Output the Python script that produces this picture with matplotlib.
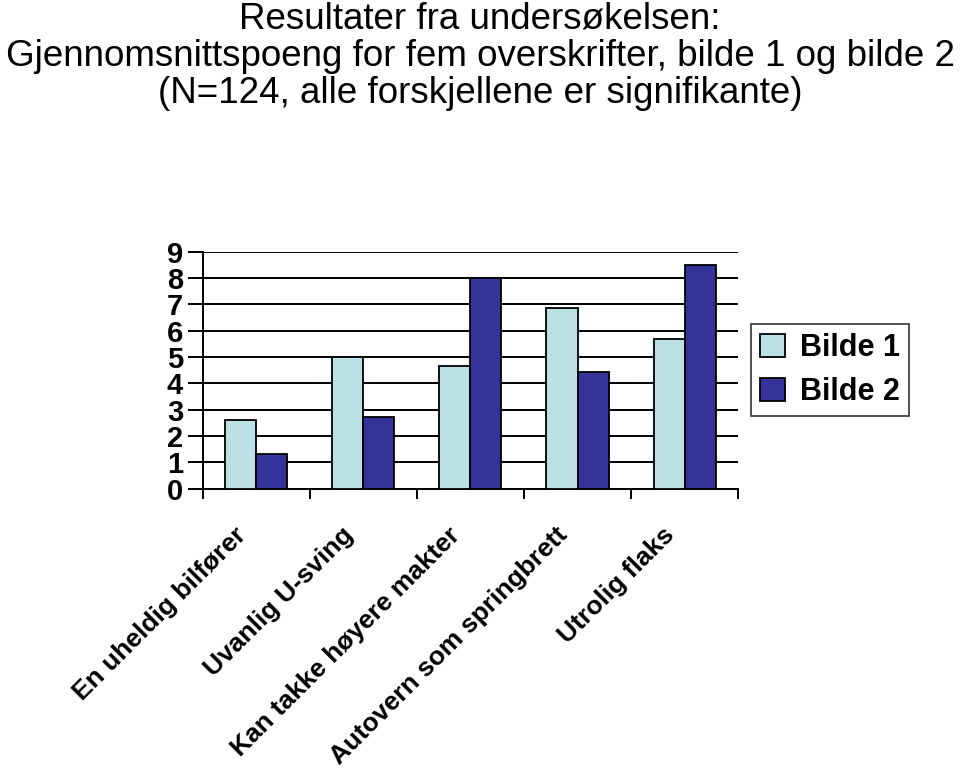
import numpy as np
import matplotlib
matplotlib.use("Agg")
import matplotlib.pyplot as plt

# data
categories = ["En uheldig bilfører", "Uvanlig U-sving", "Kan takke høyere makter",
              "Autovern som springbrett", "Utrolig flaks"]
bilde1 = [2.62, 5.0, 4.67, 6.88, 5.68]
bilde2 = [1.32, 2.72, 8.0, 4.42, 8.48]
yticks = list(range(0, 10))
title = ("Resultater fra undersøkelsen:\n"
         "Gjennomsnittspoeng for fem overskrifter, bilde 1 og bilde 2\n"
         "(N=124, alle forskjellene er signifikante)")

plt.rcParams['font.family'] = ['Liberation Sans', 'DejaVu Sans']

fig = plt.figure(figsize=(9.6, 7.68), dpi=100)
ax = fig.add_axes([0.211, 0.3637, 0.558, 0.3086])

x = np.arange(len(categories))
w = 0.29
ax.bar(x - w / 2, bilde1, w, color="#BBE1E4", edgecolor="black", linewidth=1.3,
       label="Bilde 1", zorder=3)
ax.bar(x + w / 2, bilde2, w, color="#333399", edgecolor="black", linewidth=1.3,
       label="Bilde 2", zorder=3)

ax.set_xlim(-0.5, len(categories) - 0.5)
ax.set_ylim(0, 9)
ax.set_yticks(yticks)
ax.set_yticklabels([str(t) for t in yticks], fontsize=21, fontweight="bold")
ax.yaxis.grid(True, color="black", linewidth=1.4, zorder=0)
ax.tick_params(axis="y", length=11, width=1.4, pad=3, direction="out")

# category boundary ticks on the x axis
ax.set_xticks(np.arange(-0.5, len(categories)))
ax.set_xticklabels([])
ax.tick_params(axis="x", length=7, width=1.4, direction="out")
for i, name in enumerate(categories):
    ax.annotate(name, xy=(i, 0), xycoords=("data", "axes fraction"),
                xytext=(-10, -31), textcoords="offset points",
                rotation=45, ha="right", va="center", rotation_mode="anchor",
                fontsize=19, fontweight="bold")

for s in ["top", "right"]:
    ax.spines[s].set_visible(False)
for s in ["left", "bottom"]:
    ax.spines[s].set_linewidth(1.4)

leg = ax.legend(loc="center left", bbox_to_anchor=(1.024, 0.5),
                prop={"weight": "bold", "size": 22}, frameon=True, fancybox=False,
                handlelength=0.8, handleheight=0.8, handletextpad=0.5,
                borderpad=0.3, labelspacing=0.45, borderaxespad=0)
leg.get_frame().set_edgecolor("black")
leg.get_frame().set_linewidth(1.2)

fig.text(0.5, 0.998, title, ha="center", va="top", fontsize=26.5, linespacing=1.08)

fig.savefig("out.png", dpi=100)
